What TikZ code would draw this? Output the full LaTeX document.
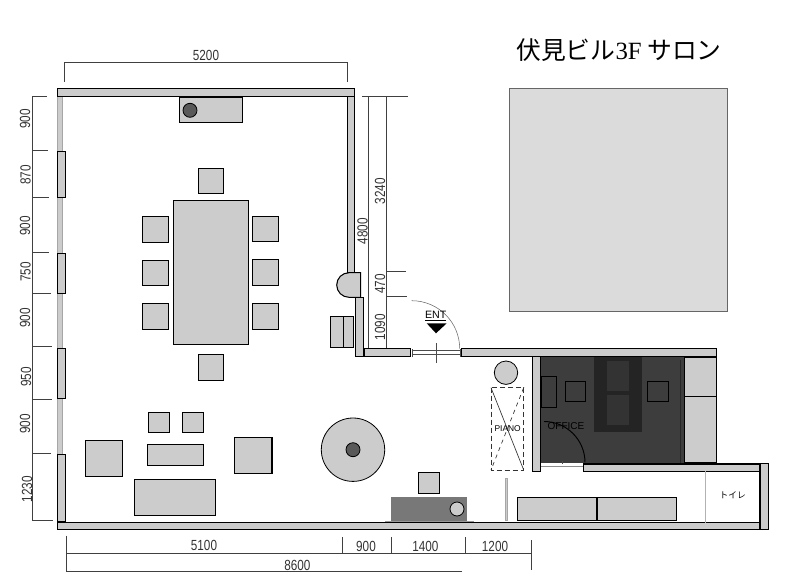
\documentclass[tikz,border=0pt]{standalone}
\usepackage{fontspec}
\setmainfont{Liberation Sans}
\newfontfamily\dimfont[FakeStretch=0.8]{Liberation Sans}
\newfontfamily\serifpart{Liberation Serif}
\newfontfamily\cjkpart{Noto Sans CJK JP}
\definecolor{wallgray}{gray}{0.8}
\definecolor{darkroom}{gray}{0.24}
\definecolor{darktable}{gray}{0.14}
\definecolor{darkcell}{gray}{0.2}
\definecolor{darkspot}{gray}{0.35}
\tikzset{
	wall/.style={draw=black, line width=.8pt, fill=wallgray},
	furn/.style={draw=black, line width=.8pt, fill=wallgray},
	darkfurn/.style={draw=black, line width=.6pt, fill=darkroom},
	glass/.style={draw=black!35, line width=.3pt, fill=wallgray},
	dimline/.style={draw=black!75, line width=.45pt},
	dimlabel/.style={font=\dimfont\fontsize{11}{11}\selectfont, text=black!80, inner sep=0pt},
	dimlabelv/.style={dimlabel, rotate=90}
}

\begin{document}
\begin{tikzpicture}[x=.75pt, y=-.75pt]
\useasboundingbox (0,0) rectangle (800,582);

\node[inner sep=0pt] (title) at (619,50) {\cjkpart\fontsize{18.6}{18.6}\selectfont 伏見ビル{\serifpart 3F} サロン};
\path[draw=black!60, line width=.3pt, fill=black!14] (509,88) rectangle (727,311);

% outer walls
\path[glass] (57.5,96) rectangle (62,522);
\path[wall] (57.3,88.7) rectangle (354.3,96.3);
\path[wall] (347.3,96.3) rectangle (354.3,272.7);
\path[wall] (57.3,151.3) rectangle (65.5,197.3);
\path[wall] (57.3,253.3) rectangle (65.5,293.3);
\path[wall] (57.3,348.3) rectangle (65.5,398.3);
\path[wall] (57.3,454.3) rectangle (65.5,521.7);
\path[wall] (57.3,522.5) rectangle (760,529.2);
\path[wall] (760,463.3) rectangle (768.5,529.2);
\path[wall] (349,272.7) arc[start angle=-90, end angle=-270, radius=12.3] -- (360.7,297.3) -- (360.7,272.7) -- cycle;
\path[wall] (355.3,297.3) rectangle (363.7,356.3);
\path[wall] (364.7,348.7) rectangle (410.3,356.3);

% office
\path[fill=darkroom] (540.7,356.3) rectangle (684.3,463);
\path[fill=darktable] (594.3,356.3) rectangle (641.7,431.7);
\path[fill=darkcell] (606.7,360.7) rectangle (629,390.7);
\path[fill=darkcell] (606.7,395) rectangle (629,425);
\path[darkfurn] (541,376.3) rectangle (556.7,407.7);
\path[darkfurn] (565.3,381.3) rectangle (585.7,401.7);
\path[darkfurn] (647.3,381.3) rectangle (668.7,401.7);
\draw[black!85, line width=.5pt] (680.3,360) -- (680.3,463);
\path[furn] (684.3,357) rectangle (716.7,396.7);
\path[furn] (684.3,396.7) rectangle (716.7,463);
\path[wall] (461.3,348.7) rectangle (716.7,356.3);
\path[wall] (532.3,356.3) rectangle (540.7,471.7);
\path[wall] (583.3,464) rectangle (760,471.3);
\draw[black, line width=.7pt] (544,421.5) arc[start angle=-90, end angle=0, radius=41];
\draw[black!45, line width=.6pt] (541,466.3) -- (583,466.3);
\draw[black!70, line width=.4pt] (562,461) -- (562,464);
\node[font=\fontsize{7.5}{7.5}\selectfont, text=black, inner sep=0pt] (officelabel) at (566,425.7) {OFFICE};

% entrance
\draw[black!60, line width=.4pt] (411.7,300.7) arc[start angle=-90, end angle=0, radius=48];
\node[font=\fontsize{8}{8}\selectfont, inner sep=.7pt, text=black] (ent) at (435.7,315.7) {\underline{ENT}};
\path[fill=black] (426.7,323.3) -- (446.7,323.3) -- (436,333.3) -- cycle;
\draw[black!70, line width=.4pt] (412,350) -- (460,350);
\draw[black!70, line width=.4pt] (412,354.7) -- (460,354.7);
\draw[black!70, line width=.4pt] (412,349) -- (412,357);
\draw[black!70, line width=.4pt] (460,349) -- (460,357);
\draw[black!70, line width=.4pt] (436,343) -- (436,363);

% dining
\path[furn] (179.3,97.3) rectangle (242.3,122.3);
\path[draw=black, line width=.6pt, fill=darkspot] (190,110.3) circle[radius=7];
\path[furn] (198.3,168.3) rectangle (223.7,193.3);
\path[furn] (173.3,200.3) rectangle (248.3,344.3);
\path[furn] (142.3,216.3) rectangle (168.3,242.3);
\path[furn] (142.3,260.3) rectangle (168.3,285.7);
\path[furn] (142.3,303.3) rectangle (168.3,329.3);
\path[furn] (252.3,216.3) rectangle (278.7,241.3);
\path[furn] (252.3,259.3) rectangle (278.7,285.3);
\path[furn] (252.3,303.3) rectangle (278.7,329.3);
\path[furn] (198.3,354.3) rectangle (223.7,380.3);
\path[furn] (330.3,316.3) rectangle (353.3,347.7);
\draw[black, line width=.6pt] (343.3,316.3) -- (343.3,347.7);

% lounge
\path[furn] (148.3,412.3) rectangle (169.7,432.3);
\path[furn] (182.3,412.3) rectangle (203.7,432.3);
\path[furn] (147.3,444.3) rectangle (203.7,465.3);
\path[furn] (85.3,440.3) rectangle (122.3,476.3);
\path[furn] (134.3,479.3) rectangle (215.3,515.3);
\path[furn] (234.3,437.3) rectangle (272,473.3);
\path[draw=black, line width=.6pt, fill=wallgray] (353,449.7) circle[radius=31.7];
\path[draw=black, line width=.6pt, fill=darkspot] (353,449.7) circle[radius=7];

% counter
\path[furn] (418.3,472.3) rectangle (439.7,493.7);
\path[fill=black!53] (391,497) rectangle (467,520.7);
\draw[black!40, line width=.4pt] (385,520.8) -- (474,520.8);
\path[draw=black, line width=.6pt, fill=wallgray] (457,509) circle[radius=7];

% piano
\path[draw=black, line width=.6pt, fill=wallgray] (506,372.7) circle[radius=11.7];
\draw[black!80, line width=.7pt, dashed, dash pattern=on 4pt off 2pt] (491,387.7) rectangle (523.7,470);
\draw[black!80, line width=.5pt] (491,387.7) -- (523.7,470);
\draw[black!80, line width=.5pt, dashed] (523.7,387.7) -- (491,470);
\node[font=\fontsize{6.3}{6.3}\selectfont, inner sep=0pt] (piano) at (507.7,428.3) {PIANO};

% storage and toilet
\path[glass] (505,478.3) rectangle (507,520);
\path[furn] (517.3,497.3) rectangle (597,520.3);
\path[furn] (597,497.3) rectangle (676.7,520.3);
\draw[black!30, line width=1.2pt] (705.3,471.3) -- (705.3,522.5);
\node[font=\cjkpart\fontsize{6.5}{6.5}\selectfont, inner sep=0pt] (toilet) at (732.7,495.3) {トイレ};

% left dimensions
\draw[dimline] (32.3,96.7) -- (32.3,520.7);
\draw[dimline] (32.3,96.7) -- (47,96.7);
\draw[dimline] (32.3,150.7) -- (48,150.7);
\draw[dimline] (32.3,197.7) -- (49,197.7);
\draw[dimline] (32.3,252.3) -- (49,252.3);
\draw[dimline] (32.3,293) -- (51,293);
\draw[dimline] (32.3,346.7) -- (52,346.7);
\draw[dimline] (32.3,399) -- (52,399);
\draw[dimline] (32.3,453.7) -- (51,453.7);
\draw[dimline] (32.3,520.7) -- (53,520.7);
\node[dimlabelv] (wa) at (25,119) {900};
\node[dimlabelv] (wb) at (25.5,175) {870};
\node[dimlabelv] (wc) at (25,226) {900};
\node[dimlabelv] (wd) at (25.5,272) {750};
\node[dimlabelv] (we) at (25,318) {900};
\node[dimlabelv] (wf) at (26,377) {950};
\node[dimlabelv] (wg) at (25,424) {900};
\node[dimlabelv] (wh) at (27,489) {1230};

% top dimension
\draw[dimline] (64,62) -- (347,62);
\draw[dimline] (64,62) -- (64,82);
\draw[dimline] (347,62) -- (347,82);
\node[dimlabel] (topdim) at (206,55) {5200};

% right dimensions
\draw[dimline] (362,96) -- (408,96);
\draw[dimline] (368.7,96) -- (368.7,348);
\draw[dimline] (386,96) -- (386,348);
\draw[dimline] (386,271.7) -- (406,271.7);
\draw[dimline] (386,296.7) -- (407,296.7);
\node[dimlabelv] (ra) at (362.5,231) {4800};
\node[dimlabelv] (rb) at (380,191) {3240};
\node[dimlabelv] (rc) at (380,284) {470};
\node[dimlabelv] (rd) at (380,327) {1090};

% bottom dimensions
\draw[dimline] (66,553) -- (531,553);
\draw[dimline] (66,571) -- (461.7,571);
\draw[dimline] (66,535.7) -- (66,571);
\draw[dimline] (342.3,537) -- (342.3,553);
\draw[dimline] (391.7,537) -- (391.7,553);
\draw[dimline] (465.3,537) -- (465.3,553);
\draw[dimline] (531,540) -- (531,570);
\node[dimlabel] (ba) at (204,545) {5100};
\node[dimlabel] (bb) at (366,546.7) {900};
\node[dimlabel] (bc) at (425.3,546) {1400};
\node[dimlabel] (bd) at (495,546) {1200};
\node[dimlabel] (be) at (297.3,565) {8600};
\end{tikzpicture}
\end{document}
